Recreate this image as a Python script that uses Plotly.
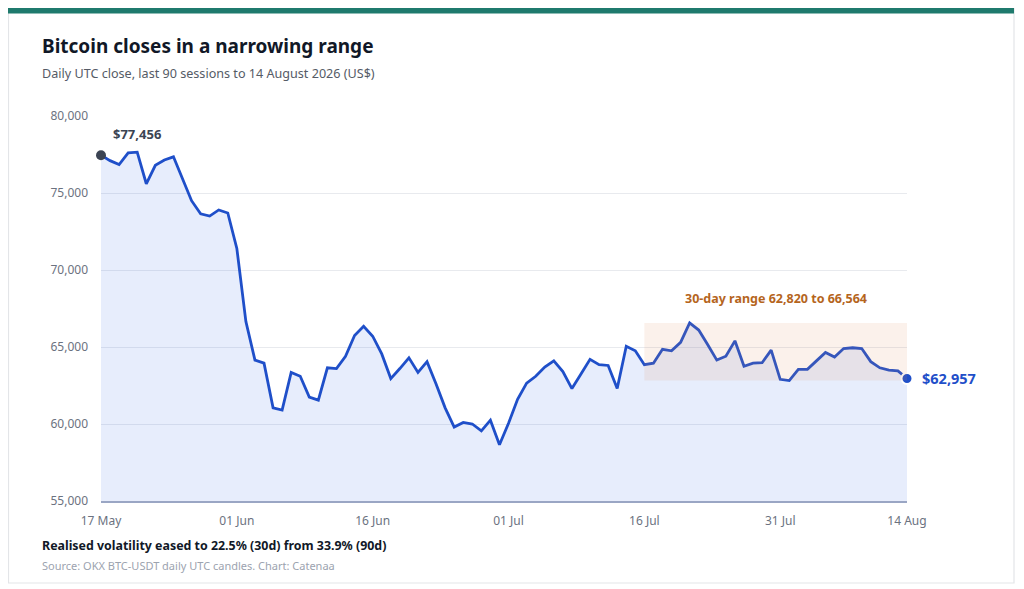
import pandas as pd
import plotly.graph_objects as go

# daily closes, 17 May -> 14 Aug 2026 (90 sessions)
dates = pd.date_range("2026-05-17", "2026-08-14", freq="D")
closes = [
    77456, 77100, 76850, 77600, 77650, 75600, 76800, 77140, 77350, 75900,
    74500, 73650, 73500, 73900, 73700, 71400, 66650, 64150, 63950, 61050,
    60900, 63350, 63100, 61750, 61550, 63650, 63600, 64400, 65750, 66350,
    65700, 64550, 62950, 63600, 64300, 63350, 64050, 62600, 61050, 59800,
    60100, 60000, 59550, 60250, 58650, 60050, 61600, 62650, 63100, 63700,
    64100, 63400, 62300, 63250, 64200, 63850, 63800, 62300, 65050, 64750,
    63850, 63950, 64850, 64750, 65300, 66564, 66100, 65150, 64150, 64400,
    65400, 63750, 63950, 63980, 64800, 62900, 62820, 63550, 63550, 64100,
    64650, 64350, 64900, 64950, 64900, 64050, 63650, 63500, 63450, 62957,
]
tick_dates = ["2026-05-17", "2026-06-01", "2026-06-16", "2026-07-01",
              "2026-07-16", "2026-07-31", "2026-08-14"]
range_lo, range_hi = 62820, 66564

BLUE = "#1f4fc9"
FONT = "Noto Sans"

# page sits 8px in from the window edge (body margin)
OFF = 8
W, H = 1024 - OFF, 589 - OFF
# plot area in window pixels
L, R, T, B = 101, 907, 116, 501


def px(x):
    return (x - L) / (R - L)


def py(y):
    return (B - y) / (B - T)


fig = go.Figure()

fig.add_trace(go.Scatter(
    x=dates, y=closes, mode="lines",
    line=dict(color=BLUE, width=2.8),
    fill="tozeroy", fillcolor="rgba(60,110,230,0.12)",
    hoverinfo="skip",
))

# first / last point markers
fig.add_trace(go.Scatter(
    x=[dates[0]], y=[closes[0]], mode="markers",
    marker=dict(color="#3b4453", size=10), hoverinfo="skip", cliponaxis=False,
))
fig.add_trace(go.Scatter(
    x=[dates[-1]], y=[closes[-1]], mode="markers",
    marker=dict(color=BLUE, size=11, line=dict(color="white", width=2)),
    hoverinfo="skip", cliponaxis=False,
))

# 30-day range box
box_mid = dates[-30] + (dates[-1] - dates[-30]) / 2
fig.add_shape(type="rect", xref="x", yref="y",
              x0=dates[-30], x1=dates[-1], y0=range_lo, y1=range_hi,
              fillcolor="rgba(225,140,90,0.12)", line_width=0, layer="above")

fig.add_annotation(x=dates[0], y=closes[0], text="<b>$77,456</b>",
                   showarrow=False, xanchor="left", yanchor="bottom",
                   xshift=10, yshift=10,
                   font=dict(family=FONT, size=13, color="#3b4453"))
fig.add_annotation(x=dates[-1], y=closes[-1], text="<b>$62,957</b>",
                   showarrow=False, xanchor="left", yanchor="middle",
                   xshift=13, font=dict(family=FONT, size=14.5, color=BLUE))
fig.add_annotation(x=box_mid, y=range_hi,
                   text="<b>30-day range 62,820 to 66,564</b>",
                   showarrow=False, xanchor="center", yanchor="bottom",
                   yshift=14, font=dict(family=FONT, size=12.5, color="#b5651d"))

# titles and footer
fig.add_annotation(xref="paper", yref="paper", x=px(40), y=py(46),
                   text="<b>Bitcoin closes in a narrowing range</b>",
                   showarrow=False, xanchor="left", yanchor="middle",
                   font=dict(family=FONT, size=19, color="#111827"))
fig.add_annotation(xref="paper", yref="paper", x=px(40), y=py(73),
                   text="Daily UTC close, last 90 sessions to 14 August 2026 (US$)",
                   showarrow=False, xanchor="left", yanchor="middle",
                   font=dict(family=FONT, size=12.6, color="#555b66"))
fig.add_annotation(xref="paper", yref="paper", x=px(40), y=py(545),
                   text="<b>Realised volatility eased to 22.5% (30d) from 33.9% (90d)</b>",
                   showarrow=False, xanchor="left", yanchor="middle",
                   font=dict(family=FONT, size=12.4, color="#111827"))
fig.add_annotation(xref="paper", yref="paper", x=px(40), y=py(565),
                   text="Source: OKX BTC-USDT daily UTC candles. Chart: Catenaa",
                   showarrow=False, xanchor="left", yanchor="middle",
                   font=dict(family=FONT, size=11, color="#9ca3af"))

# card border and top accent bar
fig.add_shape(type="rect", xref="paper", yref="paper",
              x0=px(OFF + 0.5), x1=px(1014), y0=py(583), y1=py(OFF + 0.5),
              line=dict(color="#e3e5e8", width=1.2), fillcolor="rgba(0,0,0,0)",
              layer="below")
fig.add_shape(type="rect", xref="paper", yref="paper",
              x0=px(OFF), x1=px(1014), y0=py(13.5), y1=py(OFF),
              line_width=0, fillcolor="#1f7a6d")

fig.update_layout(
    width=W, height=H,
    margin=dict(l=L - OFF, r=1024 - R, t=T - OFF, b=589 - B),
    paper_bgcolor="white", plot_bgcolor="white",
    showlegend=False, hovermode=False,
    font=dict(family=FONT),
    xaxis=dict(
        range=[dates[0], dates[-1]],
        tickvals=tick_dates, tickformat="%d %b",
        tickfont=dict(size=12, color="#6b7280"),
        showgrid=False, zeroline=False,
        showline=True, linecolor="#9aa6c4", linewidth=1.5,
        ticklabelstandoff=8,
    ),
    yaxis=dict(
        range=[55000, 80000], dtick=5000, tickformat=",",
        tickfont=dict(size=12, color="#6b7280"),
        showgrid=True, gridcolor="#e8eaee", gridwidth=1,
        zeroline=False, showline=False,
        ticklabelstandoff=12,
    ),
)

fig.write_html("out.html")
